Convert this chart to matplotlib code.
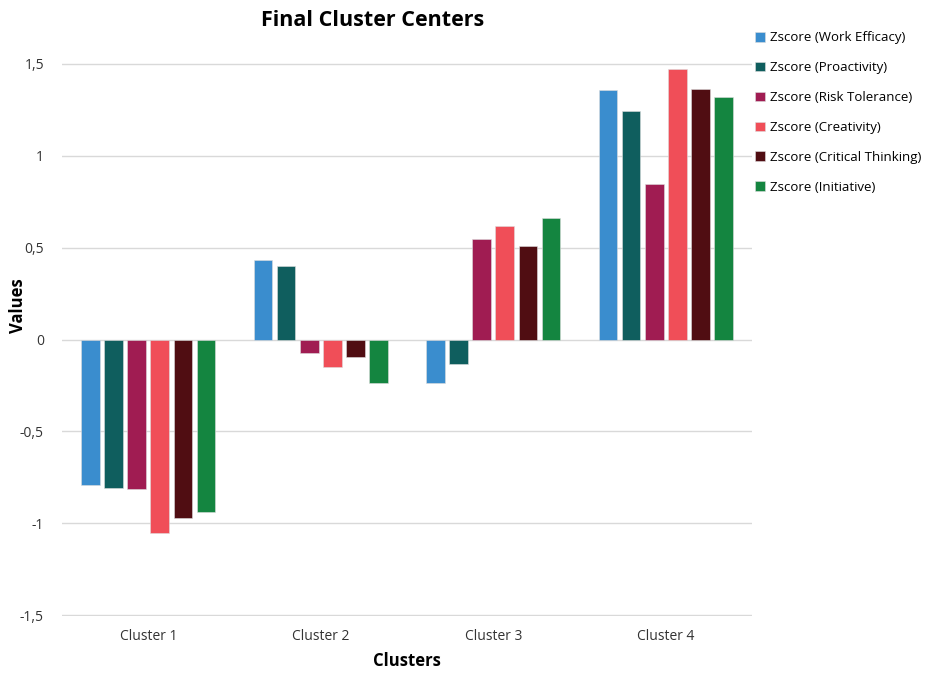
import numpy as np
import matplotlib.pyplot as plt

plt.rcParams["font.family"] = ["Open Sans", "DejaVu Sans"]

clusters = ["Cluster 1", "Cluster 2", "Cluster 3", "Cluster 4"]
series_names = [
    "Zscore (Work Efficacy)",
    "Zscore (Proactivity)",
    "Zscore (Risk Tolerance)",
    "Zscore (Creativity)",
    "Zscore (Critical Thinking)",
    "Zscore (Initiative)",
]
work_efficacy = [-0.79, 0.43, -0.235, 1.355]
proactivity = [-0.81, 0.40, -0.135, 1.245]
risk_tolerance = [-0.815, -0.075, 0.545, 0.845]
creativity = [-1.05, -0.15, 0.615, 1.47]
critical_thinking = [-0.97, -0.095, 0.51, 1.36]
initiative = [-0.94, -0.235, 0.66, 1.32]
values = [work_efficacy, proactivity, risk_tolerance, creativity,
          critical_thinking, initiative]
colors = ["#3A8DCE", "#0F5E5E", "#A01C52", "#F04E58", "#500D12", "#148540"]

fig = plt.figure(figsize=(9.36, 6.74), dpi=100)
ax = fig.add_axes([62 / 936, 1 - 616 / 674, 690 / 936, (616 - 63) / 674])

x = np.arange(len(clusters))
pitch = 0.134
width = 0.108
for i, (name, vals, col) in enumerate(zip(series_names, values, colors)):
    ax.bar(x + (i - 2.5) * pitch, vals, width, color=col, label=name,
           edgecolor="#dddddd", linewidth=0.4, zorder=3)

ax.set_xlim(-0.5, 3.5)
ax.set_ylim(-1.504, 1.504)
yt = [-1.5, -1, -0.5, 0, 0.5, 1, 1.5]
ax.set_yticks(yt)
ax.set_yticklabels([("%g" % v).replace(".", ",") for v in yt],
                   fontsize=10, color="#333333")
ax.set_xticks(x)
ax.set_xticklabels(clusters, fontsize=10, color="#333333")
ax.tick_params(length=0, pad=9)
ax.tick_params(axis="y", pad=13)
ax.grid(axis="y", color="#d9d9d9", linewidth=1, zorder=0)
for s in ax.spines.values():
    s.set_visible(False)

ax.set_xlabel("Clusters", fontsize=12, fontweight="bold", labelpad=6)
ax.set_ylabel("Values", fontsize=12, fontweight="bold")
ax.yaxis.set_label_coords(-35 / 690, 0.562)
fig.text(373 / 936, 1 - 20 / 674, "Final Cluster Centers", ha="center",
         va="center", fontsize=15.5, fontweight="bold")

ax.legend(loc="upper left", bbox_to_anchor=(750 / 936, 1 - 26 / 674),
          bbox_transform=fig.transFigure, frameon=False, fontsize=9.5,
          handlelength=0.75, handleheight=0.75, handletextpad=0.35,
          labelspacing=1.28, borderaxespad=0)

fig.savefig("out.png", dpi=100)
